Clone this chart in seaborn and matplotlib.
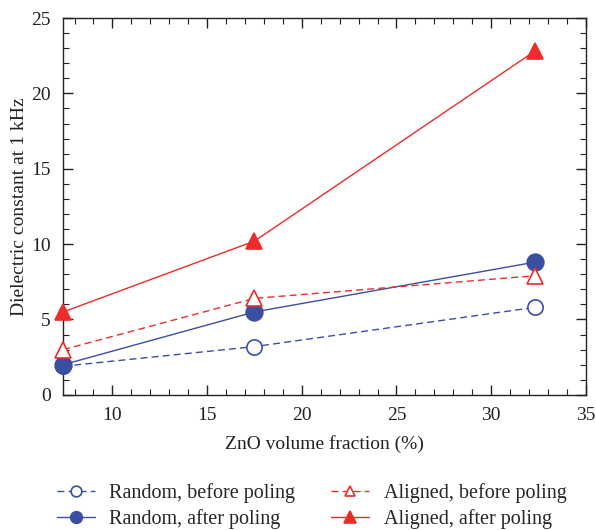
import pandas as pd
import matplotlib
matplotlib.use("Agg")
import matplotlib.pyplot as plt
from matplotlib.ticker import MultipleLocator
import seaborn as sns

# values
zno_fraction = [7.4, 17.5, 32.3]
random_before = [1.9, 3.2, 5.8]
random_after = [2.0, 5.5, 8.8]
aligned_before = [3.0, 6.4, 7.9]
aligned_after = [5.5, 10.2, 22.8]

series_names = ['Random, before poling', 'Random, after poling',
                'Aligned, before poling', 'Aligned, after poling']

rows = []
for name, vals in zip(series_names, [random_before, random_after, aligned_before, aligned_after]):
    for x, y in zip(zno_fraction, vals):
        rows.append({'x': x, 'y': y, 'series': name})
data = pd.DataFrame(rows)

sns.set_style('ticks')
plt.rcParams['font.family'] = ['Liberation Serif', 'DejaVu Serif']

blue = '#3B4FA1'
red = '#EE2B2B'
styles = {
    'Random, before poling': dict(color=blue, ls=(0, (5, 3)), marker='o', mfc='white', mec=blue, ms=11),
    'Random, after poling': dict(color=blue, ls='-', marker='o', mfc=blue, mec=blue, ms=12),
    'Aligned, before poling': dict(color=red, ls=(0, (5, 3)), marker='^', mfc='white', mec=red, ms=11),
    'Aligned, after poling': dict(color=red, ls='-', marker='^', mfc=red, mec=red, ms=12),
}

fig = plt.figure(figsize=(5.96, 5.30), dpi=100)
ax = fig.add_axes([0.106, 0.255, 0.877, 0.711])

for name in series_names:
    st = styles[name]
    sub = data[data['series'] == name]
    sns.lineplot(data=sub, x='x', y='y', ax=ax, color=st['color'], linestyle=st['ls'],
                 linewidth=1.0, marker=st['marker'], markersize=st['ms'],
                 markerfacecolor=st['mfc'], markeredgecolor=st['mec'], markeredgewidth=1.2,
                 label=name, clip_on=False, zorder=3)

handles, labels = ax.get_legend_handles_labels()
ax.get_legend().remove()

ax.set_xlim(7.4, 35)
ax.set_ylim(0, 25)
ax.xaxis.set_major_locator(MultipleLocator(5))
ax.xaxis.set_minor_locator(MultipleLocator(1))
ax.yaxis.set_major_locator(MultipleLocator(5))
ax.yaxis.set_minor_locator(MultipleLocator(1))
ax.tick_params(which='both', direction='in', top=True, right=True, labelsize=14,
               color='#222222', labelcolor='#222222')
ax.tick_params(which='major', length=7, width=1, pad=9)
ax.tick_params(which='minor', length=4, width=0.8)
for sp in ax.spines.values():
    sp.set_color('#222222')
    sp.set_linewidth(1)

ax.set_xlabel('ZnO volume fraction (%)', fontsize=14, color='#222222', labelpad=8)
ax.set_ylabel('Dielectric constant at 1 kHz', fontsize=14, color='#222222', labelpad=2)

fig.legend(handles, labels, loc='upper left', bbox_to_anchor=(0.095, 0.088), ncol=2,
           frameon=False, fontsize=14.5, handlelength=1.9, columnspacing=1.8,
           labelspacing=0.3, handletextpad=0.7, markerscale=0.7, borderaxespad=0,
           borderpad=0)

fig.savefig('out.png', dpi=100)
